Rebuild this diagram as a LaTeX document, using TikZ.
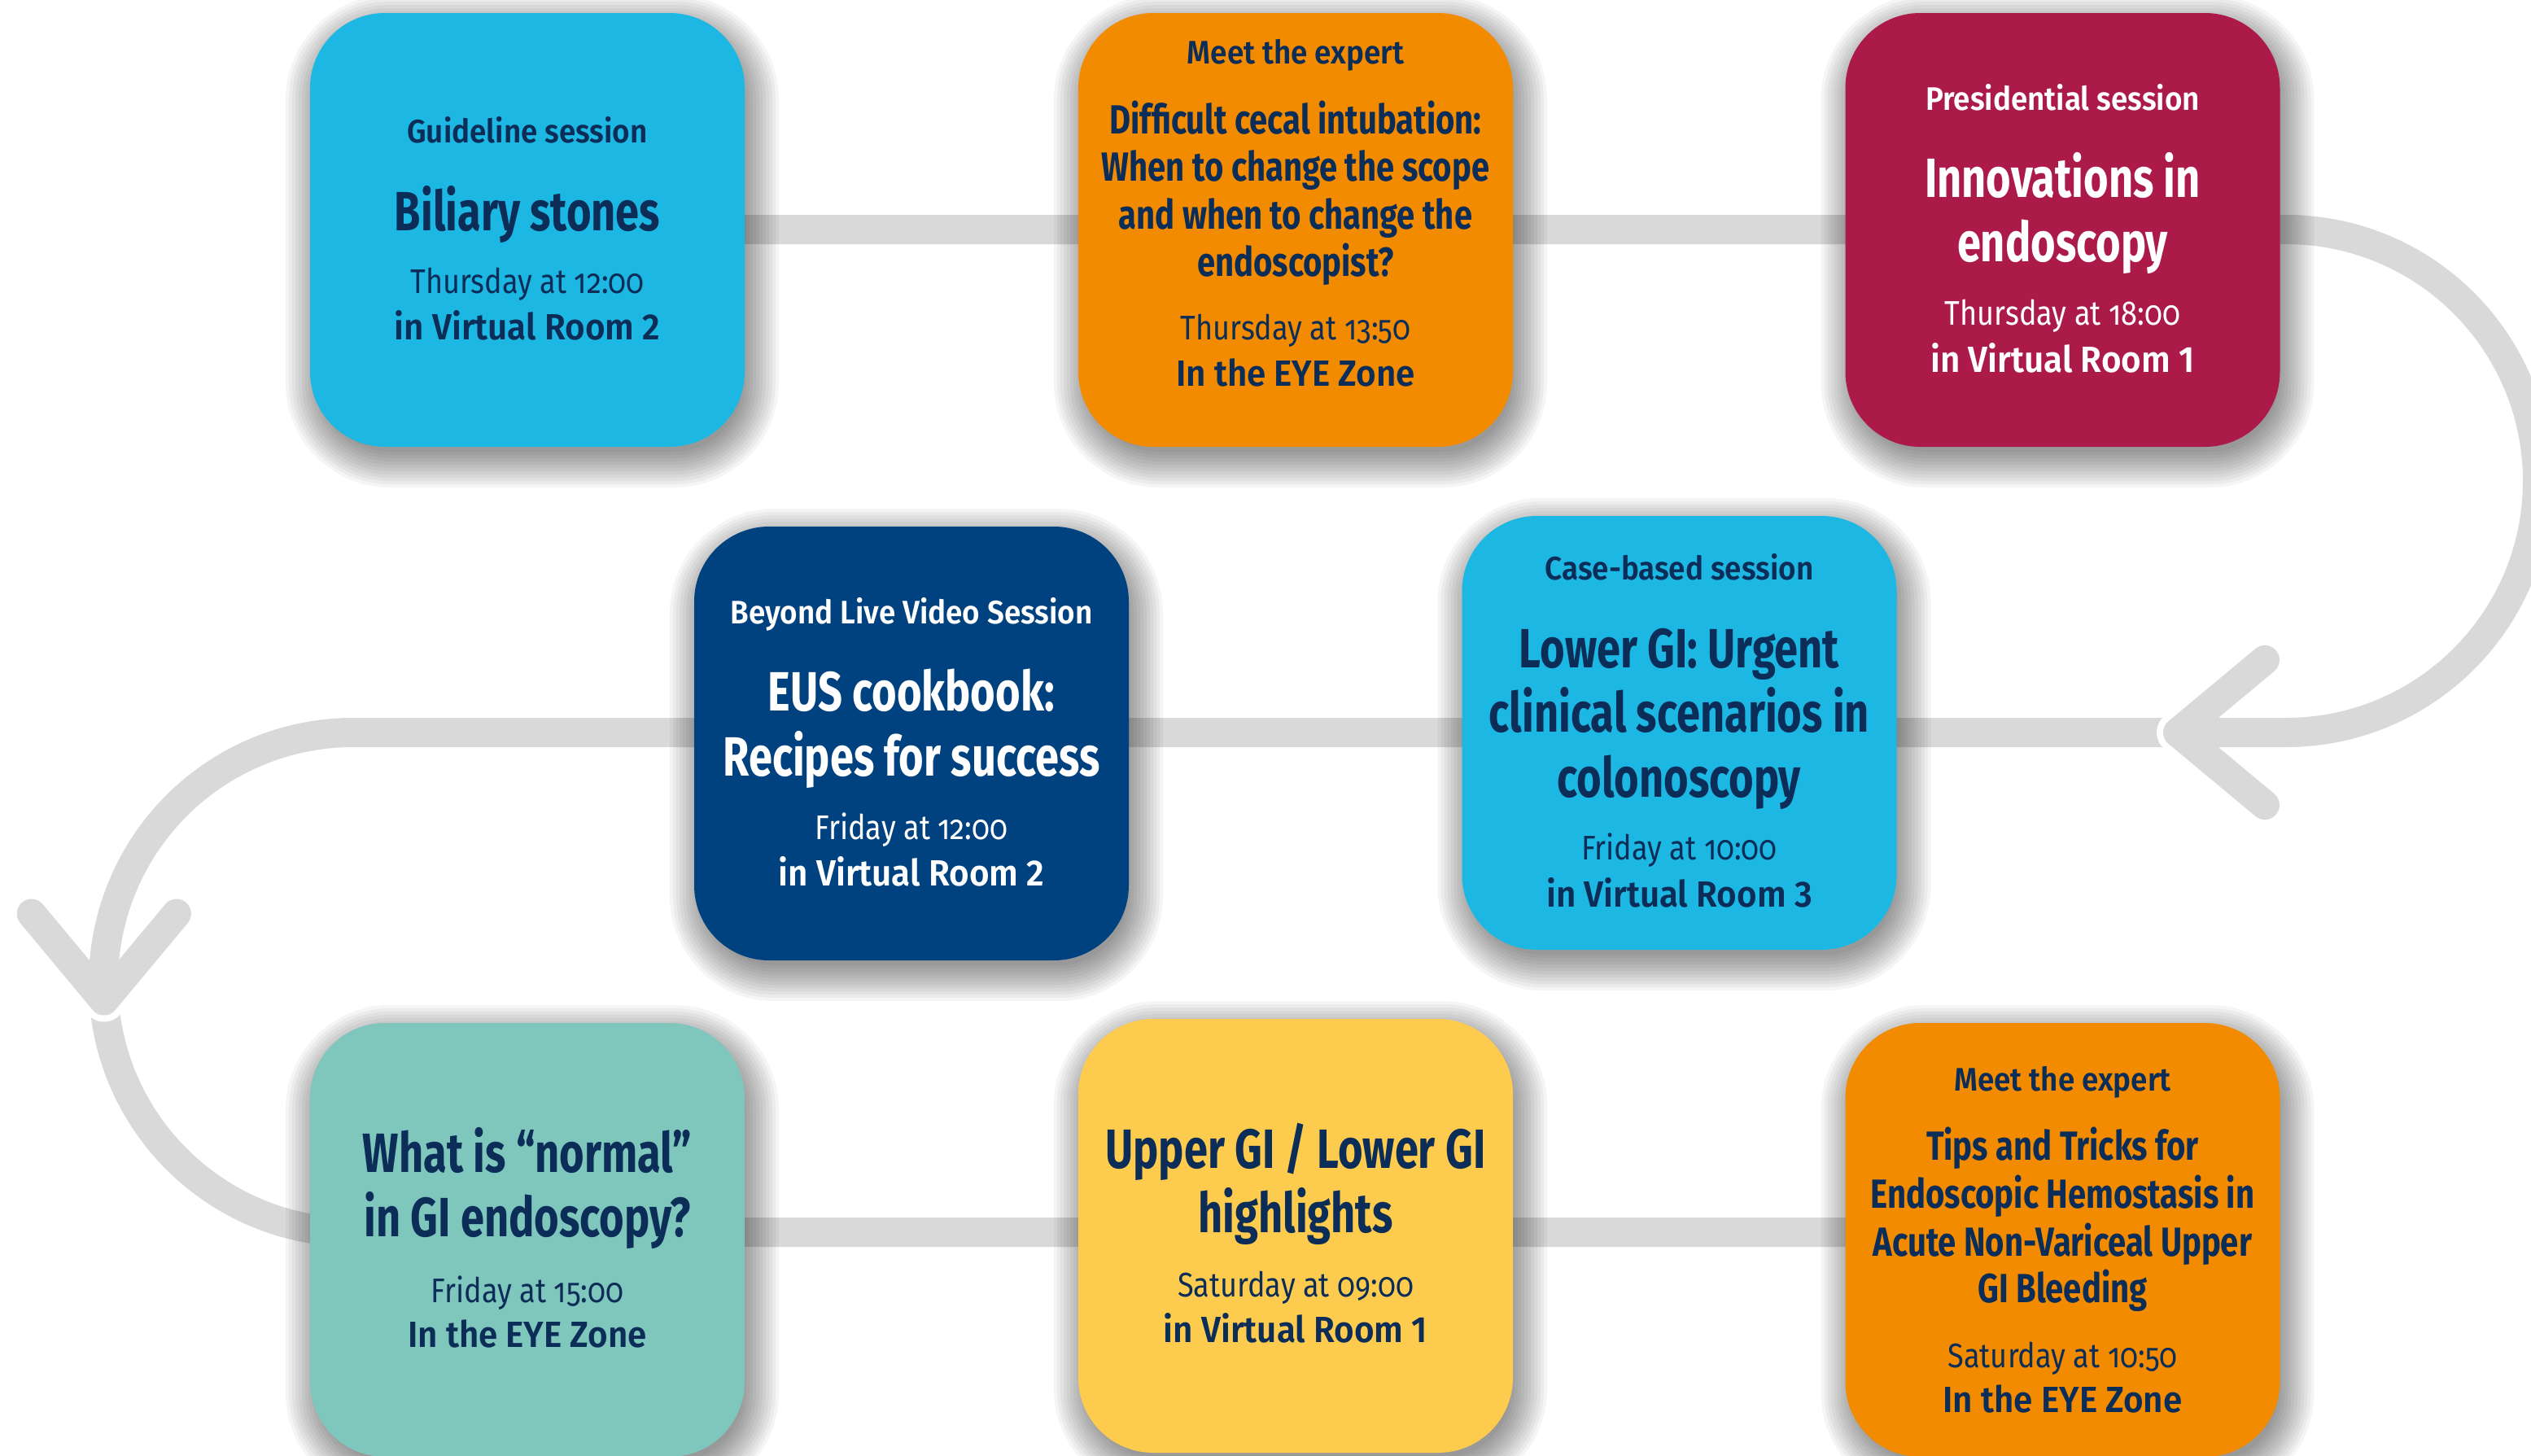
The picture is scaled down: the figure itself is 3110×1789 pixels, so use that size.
\documentclass[tikz,border=0pt]{standalone}
\usepackage{fontspec}
\usetikzlibrary{calc}
\setmainfont{Fira Sans}
\newfontfamily\fTitle{Fira Sans}[FakeStretch=0.77]
\newfontfamily\fSmall{Fira Sans}[FakeStretch=0.80]
\newfontfamily\fTime{Fira Sans}[FakeStretch=0.86, Numbers=OldStyle]
\IfFontExistsTF{Fira Sans SemiBold}
 {\newfontfamily\fSemiA{Fira Sans SemiBold}[FakeStretch=0.92]
  \newfontfamily\fSemiB{Fira Sans SemiBold}[FakeStretch=0.94]
  \newcommand\fSub{\fSemiA}\newcommand\fPlace{\fSemiB}}
 {\newfontfamily\fSemiA{Fira Sans}[FakeStretch=0.92]
  \newfontfamily\fSemiB{Fira Sans}[FakeStretch=0.94]
  \newcommand\fSub{\fSemiA\bfseries}\newcommand\fPlace{\fSemiB\bfseries}}
\definecolor{cyanB}{HTML}{1CB8E3}
\definecolor{orangeB}{HTML}{F28B00}
\definecolor{crimB}{HTML}{AB1A48}
\definecolor{navyB}{HTML}{00417F}
\definecolor{tealB}{HTML}{7FC6BD}
\definecolor{yellowB}{HTML}{FDCC4E}
\definecolor{lineG}{HTML}{D9D9D9}
\definecolor{textN}{HTML}{0C2D57}
\tikzset{
  box/.style={rounded corners=23pt, minimum width=133.5pt, minimum height=133.25pt,
    inner sep=0pt},
  boxshadow/.style={fill=black, opacity=0.04},
  flow/.style={draw=lineG, line width=9pt},
  chev/.style={draw=lineG, line width=9pt, line cap=round, line join=round},
  chevw/.style={draw=white, line width=13pt, line cap=round, line join=round},
  tl/.style={anchor=base, inner sep=0pt, outer sep=0pt},
  sub/.style={tl, font=\fSub\fontsize{10}{12}\selectfont},
  ttl/.style={tl, font=\fTitle\bfseries\fontsize{17}{20}\selectfont},
  stl/.style={tl, font=\fSmall\bfseries\fontsize{12.5}{14.6}\selectfont},
  tim/.style={tl, font=\fTime\fontsize{10.5}{12}\selectfont},
  plc/.style={tl, font=\fPlace\fontsize{11.2}{13}\selectfont},
}
% soft drop shadow made of stacked translucent rounded rectangles, then the box
\newcommand\sessionbox[4]{%
  \foreach \k in {0,...,11}{%
    \pgfmathsetmacro\shE{-8+4*\k}%
    \fill[boxshadow, rounded corners={(92+\shE)*0.25pt}]
      ($(#3,#4)+(-267-\shE+6,-266.5-\shE+14)$) rectangle
      ($(#3,#4)+(267+\shE+6,266.5+\shE+14)$);
  }%
  \node[box, fill=#2] (#1) at (#3,#4) {};
}
\begin{document}
\begin{tikzpicture}[x=0.25pt, y=-0.25pt]
\useasboundingbox (0,0) rectangle (3110,1789);
\clip (0,0) rectangle (3110,1789);
\fill[white] (0,0) rectangle (3110,1789);

% coordinates of the flow line
\coordinate (rtop) at (2809,282);
\coordinate (tipA) at (2676,900);
\coordinate (ltop) at (434,900);
\coordinate (tipB) at (127.8,1229.5);
\coordinate (lbot) at (434,1514);
\coordinate (b1c) at (648,282);
\coordinate (b8c) at (2534.5,1514);

% row 3 part (after arrow B)
\draw[flow] (tipB) arc[start angle=184.2, end angle=270, radius=76.75pt] -- (b8c);
\draw[chevw] ($(tipB)+(129.8:34.8pt)$) -- (tipB) -- ($(tipB)+(50.2:34.8pt)$);
% row 2 part (after arrow A)
\draw[flow] (tipA) -- (ltop) arc[start angle=90, end angle=184.2, radius=76.75pt];
\draw[chev] ($(tipB)+(129.8:34.8pt)$) -- (tipB) -- ($(tipB)+(50.2:34.8pt)$);
\draw[chevw] ($(tipA)+(39.8:34.8pt)$) -- (tipA) -- ($(tipA)+(-39.8:34.8pt)$);
% row 1 part
\draw[flow] (b1c) -- (rtop) arc[start angle=90, end angle=-90, radius=77.25pt] -- (tipA);
\draw[chev] ($(tipA)+(39.8:34.8pt)$) -- (tipA) -- ($(tipA)+(-39.8:34.8pt)$);

% boxes
\sessionbox{b1}{cyanB}{648}{282.5}
\sessionbox{b2}{orangeB}{1592}{282.5}
\sessionbox{b3}{crimB}{2534.5}{282.5}
\sessionbox{b4}{navyB}{1120}{913.5}
\sessionbox{b5}{cyanB}{2063.5}{900.5}
\sessionbox{b6}{tealB}{648}{1523.5}
\sessionbox{b7}{yellowB}{1592}{1518.5}
\sessionbox{b8}{orangeB}{2534.5}{1523.5}

% texts
\begin{scope}[text=textN]
\node[sub] (b1s) at (648,175) {Guideline session};
\node[ttl] (b1t) at (648,283) {Biliary stones};
\node[tim] (b1d) at (648,360) {Thursday at 12:00};
\node[plc] (b1p) at (648,417) {in Virtual Room 2};

\node[sub] (b2s) at (1592,78.5) {Meet the expert};
\node[stl] (b2t1) at (1592,164.5) {Difficult cecal intubation:};
\node[stl] (b2t2) at (1592,222) {When to change the scope};
\node[stl] (b2t3) at (1592,281) {and when to change the};
\node[stl] (b2t4) at (1592,339) {endoscopist?};
\node[tim] (b2d) at (1592,417) {Thursday at 13:50};
\node[plc] (b2p) at (1592,474.5) {In the EYE Zone};

\node[sub] (b5s) at (2063.5,712.5) {Case-based session};
\node[ttl] (b5t1) at (2063.5,820) {Lower GI: Urgent};
\node[ttl] (b5t2) at (2063.5,899) {clinical scenarios in};
\node[ttl] (b5t3) at (2063.5,979) {colonoscopy};
\node[tim] (b5d) at (2063.5,1056.5) {Friday at 10:00};
\node[plc] (b5p) at (2063.5,1114) {in Virtual Room 3};

\node[ttl] (b6t1) at (648,1440) {What is “normal”};
\node[ttl] (b6t2) at (648,1519) {in GI endoscopy?};
\node[tim] (b6d) at (648,1600) {Friday at 15:00};
\node[plc] (b6p) at (648,1655) {In the EYE Zone};

\node[ttl] (b7t1) at (1592,1435) {Upper GI / Lower GI};
\node[ttl] (b7t2) at (1592,1514) {highlights};
\node[tim] (b7d) at (1592,1593) {Saturday at 09:00};
\node[plc] (b7p) at (1592,1649) {in Virtual Room 1};

\node[sub] (b8s) at (2534.5,1340) {Meet the expert};
\node[stl] (b8t1) at (2534.5,1425) {Tips and Tricks for};
\node[stl] (b8t2) at (2534.5,1484) {Endoscopic Hemostasis in};
\node[stl] (b8t3) at (2534.5,1543) {Acute Non-Variceal Upper};
\node[stl] (b8t4) at (2534.5,1600) {GI Bleeding};
\node[tim] (b8d) at (2534.5,1680) {Saturday at 10:50};
\node[plc] (b8p) at (2534.5,1735) {In the EYE Zone};
\end{scope}

\begin{scope}[text=white]
\node[sub] (b3s) at (2534.5,135) {Presidential session};
\node[ttl] (b3t1) at (2534.5,242) {Innovations in};
\node[ttl] (b3t2) at (2534.5,321.5) {endoscopy};
\node[tim] (b3d) at (2534.5,399) {Thursday at 18:00};
\node[plc] (b3p) at (2534.5,457) {in Virtual Room 1};

\node[sub] (b4s) at (1120,766) {Beyond Live Video Session};
\node[ttl] (b4t1) at (1120,873) {EUS cookbook:};
\node[ttl] (b4t2) at (1120,953) {Recipes for success};
\node[tim] (b4d) at (1120,1031) {Friday at 12:00};
\node[plc] (b4p) at (1120,1088) {in Virtual Room 2};
\end{scope}
\end{tikzpicture}
\end{document}
